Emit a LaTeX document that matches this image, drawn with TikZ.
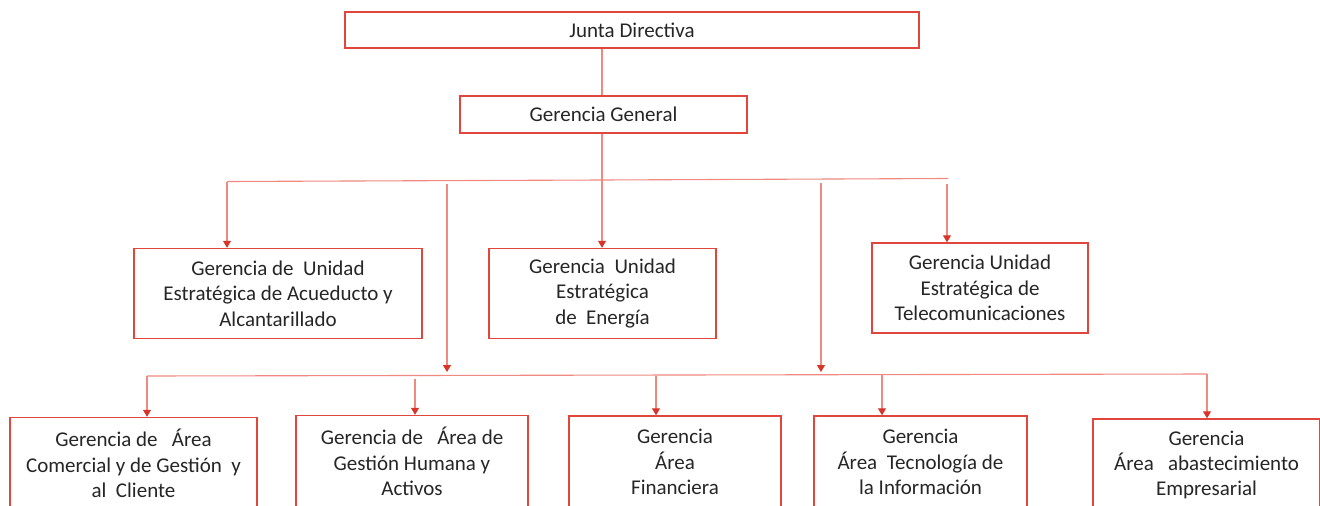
\documentclass[tikz,border=0pt]{standalone}
\usepackage{fontspec}
\setmainfont{Carlito}
\usetikzlibrary{arrows.meta}
\definecolor{boxred}{HTML}{E0463C}
\definecolor{linered}{HTML}{F08A80}
\definecolor{tipred}{HTML}{D8352A}
\begin{document}
\begin{tikzpicture}[x=1pt,y=-1pt,
  box/.style={draw=boxred,line width=1.4pt,fill=white,align=center,inner sep=0pt,
    font=\fontsize{21}{25.3}\selectfont,text=black!85},
  conn/.style={draw=linered,line width=1.1pt},
  arr/.style={conn,-{Triangle[width=8pt,length=7pt,color=tipred]}}]
\useasboundingbox (0,0) rectangle (1320,506);
\clip (0,0) rectangle (1320,506);
\fill[white] (0,0) rectangle (1320,506);
% nodes
\node[box,minimum width=574pt,minimum height=36pt] (JD) at (632,30) {Junta Directiva};
\node[box,minimum width=287pt,minimum height=37pt] (GG) at (603.5,114.5) {Gerencia General};
\node[box,minimum width=288pt,minimum height=90pt] (Acu) at (278,293.5) {Gerencia de\ \ Unidad\\Estratégica de Acueducto y\\Alcantarillado};
\node[box,minimum width=227pt,minimum height=90pt] (Ene) at (602.5,293.5) {Gerencia\ \ Unidad\\Estratégica\\de\ \ Energía};
\node[box,minimum width=216pt,minimum height=90pt] (Tel) at (980,288) {Gerencia Unidad\\Estratégica de\\Telecomunicaciones};
\node[box,minimum width=247pt,minimum height=92pt] (Com) at (133.5,463.5) {Gerencia de\ \ \ Área\\Comercial y de Gestión\ \ y\\al\ \ Cliente};
\node[box,minimum width=232pt,minimum height=92pt] (GH) at (412,461.5) {Gerencia de\ \ \ Área de\\Gestión Humana y\\Activos};
\node[box,minimum width=212pt,minimum height=92pt] (Fin) at (675,462) {Gerencia\\Área\\Financiera};
\node[box,minimum width=213pt,minimum height=92pt] (Tec) at (920.5,462) {Gerencia\\Área\ \ Tecnología de\\la Información};
\node[box,minimum width=227pt,minimum height=92pt] (Emp) at (1206.5,465) {Gerencia\\Área\ \ \ abastecimiento\\Empresarial};
% coordinates
\coordinate (hL) at (227,181.5);
\coordinate (hM) at (602,180);
\coordinate (hR) at (948,178.5);
\coordinate (tS) at (947,184);
\coordinate (v1) at (447,184);
\coordinate (v1e) at (447,372);
\coordinate (v2) at (821,183);
\coordinate (v2e) at (821,372);
\coordinate (bL) at (147,376);
\coordinate (bR) at (1207,374);
\coordinate (b2) at (415,378.5);
\coordinate (b3) at (656,375.5);
\coordinate (b4) at (882,374.5);
% connectors
\draw[conn] (GG.north -| hM) -- (JD.south -| hM);
\draw[conn] (GG.south -| hM) -- (hM);
\draw[conn] (hL) -- (hM) -- (hR);
\draw[arr] (hL) -- (hL |- Acu.north);
\draw[arr] (hM) -- (hM |- Ene.north);
\draw[arr] (tS) -- (tS |- Tel.north);
\draw[arr] (v1) -- (v1e);
\draw[arr] (v2) -- (v2e);
\draw[conn] (bL) -- (bR);
\draw[arr] (bL) -- (bL |- Com.north);
\draw[arr] (b2) -- (b2 |- GH.north);
\draw[arr] (b3) -- (b3 |- Fin.north);
\draw[arr] (b4) -- (b4 |- Tec.north);
\draw[arr] (bR) -- (bR |- Emp.north);
\end{tikzpicture}
\end{document}
